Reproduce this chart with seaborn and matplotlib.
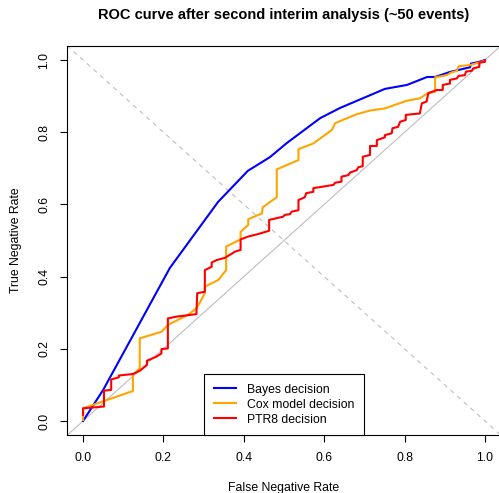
import matplotlib
matplotlib.use("Agg")
from matplotlib import pyplot as plt
import seaborn as sns
import pandas as pd

# values
bayes_fnr = [0.0, 0.05, 0.216, 0.336, 0.410, 0.465, 0.507, 0.590, 0.639, 0.751, 0.806,
             0.856, 0.876, 0.913, 0.963, 0.965, 0.985, 1.0]
bayes_tnr = [0.0, 0.086, 0.424, 0.607, 0.693, 0.731, 0.770, 0.839, 0.867, 0.920, 0.931,
             0.953, 0.953, 0.967, 0.980, 0.990, 0.995, 1.0]

cox_fnr = [0.0, 0.0, 0.124, 0.124, 0.141, 0.141, 0.195, 0.211, 0.261, 0.282, 0.294, 0.303,
           0.303, 0.337, 0.356, 0.356, 0.381, 0.392, 0.392, 0.411, 0.411, 0.445, 0.447, 0.482,
           0.482, 0.536, 0.536, 0.573, 0.619, 0.627, 0.681, 0.714, 0.751, 0.805, 0.838, 0.859,
           0.876, 0.876, 0.905, 0.915, 0.930, 0.935, 0.963, 1.0]
cox_tnr = [0.003, 0.035, 0.083, 0.127, 0.146, 0.229, 0.247, 0.266, 0.294, 0.312, 0.335, 0.354,
           0.372, 0.391, 0.418, 0.483, 0.497, 0.503, 0.524, 0.543, 0.559, 0.575, 0.592, 0.620,
           0.697, 0.723, 0.753, 0.769, 0.806, 0.825, 0.850, 0.860, 0.866, 0.887, 0.894, 0.909,
           0.912, 0.952, 0.958, 0.965, 0.970, 0.983, 0.986, 0.998]

ptr8_fnr = [0.0, 0.0, 0.052, 0.052, 0.070, 0.070, 0.089, 0.089, 0.124, 0.141, 0.159, 0.159,
            0.182, 0.195, 0.195, 0.211, 0.211, 0.232, 0.282, 0.284, 0.303, 0.303, 0.320, 0.320,
            0.333, 0.353, 0.378, 0.392, 0.392, 0.411, 0.436, 0.463, 0.463, 0.498, 0.502, 0.515,
            0.519, 0.536, 0.536, 0.552, 0.555, 0.573, 0.573, 0.623, 0.627, 0.643, 0.643, 0.660,
            0.664, 0.681, 0.685, 0.696, 0.696, 0.714, 0.714, 0.731, 0.731, 0.751, 0.751, 0.768,
            0.770, 0.784, 0.789, 0.803, 0.803, 0.838, 0.843, 0.855, 0.859, 0.880, 0.895, 0.895,
            0.913, 0.913, 0.930, 0.934, 0.950, 0.953, 0.967, 0.971, 0.986, 0.986, 1.0, 1.0]
ptr8_tnr = [0.017, 0.035, 0.040, 0.084, 0.086, 0.115, 0.121, 0.126, 0.130, 0.139, 0.155, 0.167,
            0.178, 0.187, 0.199, 0.201, 0.284, 0.289, 0.296, 0.354, 0.358, 0.418, 0.427, 0.439,
            0.446, 0.452, 0.469, 0.474, 0.503, 0.511, 0.518, 0.527, 0.557, 0.566, 0.571, 0.573,
            0.580, 0.584, 0.612, 0.620, 0.631, 0.635, 0.645, 0.654, 0.660, 0.663, 0.677, 0.681,
            0.688, 0.695, 0.703, 0.706, 0.732, 0.737, 0.762, 0.762, 0.778, 0.786, 0.792, 0.797,
            0.811, 0.815, 0.829, 0.834, 0.848, 0.852, 0.880, 0.885, 0.908, 0.917, 0.917, 0.931,
            0.935, 0.945, 0.949, 0.956, 0.958, 0.968, 0.970, 0.977, 0.981, 0.993, 0.995, 1.0]

labels = ["Bayes decision", "Cox model decision", "PTR8 decision"]
colors = ["blue", "orange", "red"]
ticks = [0.0, 0.2, 0.4, 0.6, 0.8, 1.0]

plt.rcParams['font.family'] = ['Liberation Sans', 'DejaVu Sans']

fig = plt.figure(figsize=(4.99, 4.93), dpi=100)
ax = fig.add_axes([67 / 499, 57.6 / 493, 434 / 499, 389.8 / 493])

# reference diagonals
ax.axline((0, 0), slope=1, color="#BEBEBE", lw=0.8, zorder=1)
ax.axline((0, 1), slope=-1, color="#BEBEBE", lw=0.8, linestyle=(0, (4, 4)), zorder=1)

curves = [(bayes_fnr, bayes_tnr), (cox_fnr, cox_tnr), (ptr8_fnr, ptr8_tnr)]
for (fx, fy), lab, col in zip(curves, labels, colors):
    df = pd.DataFrame({"fnr": fx, "tnr": fy})
    sns.lineplot(data=df, x="fnr", y="tnr", sort=False, estimator=None,
                 color=col, lw=1.5, label=lab, ax=ax, zorder=3)

ax.set_xlim(-0.04, 1.04)
ax.set_ylim(-0.04, 1.04)
ax.set_xticks(ticks)
ax.set_yticks(ticks)
ax.set_xticklabels([f"{t:.1f}" for t in ticks])
ax.set_yticklabels([f"{t:.1f}" for t in ticks], rotation=90, va="center")
ax.tick_params(direction="out", length=5, width=0.8, labelsize=8.8, pad=7)
for s in ax.spines.values():
    s.set_linewidth(0.8)
    s.set_color("black")

ax.set_xlabel("False Negative Rate", fontsize=8.8, labelpad=13)
ax.set_ylabel("True Negative Rate", fontsize=8.8, labelpad=12)
ax.set_title("ROC curve after second interim analysis (~50 events)",
             fontsize=10.5, fontweight="bold", pad=19)

leg = ax.legend(loc="lower center", bbox_to_anchor=(0.5, 0.0), borderaxespad=0,
                fancybox=False, framealpha=1, edgecolor="black", fontsize=8.8,
                handlelength=1.8, handletextpad=0.9, labelspacing=0.25, borderpad=0.8)
leg.get_frame().set_linewidth(0.8)

plt.savefig("out.png", dpi=100)
